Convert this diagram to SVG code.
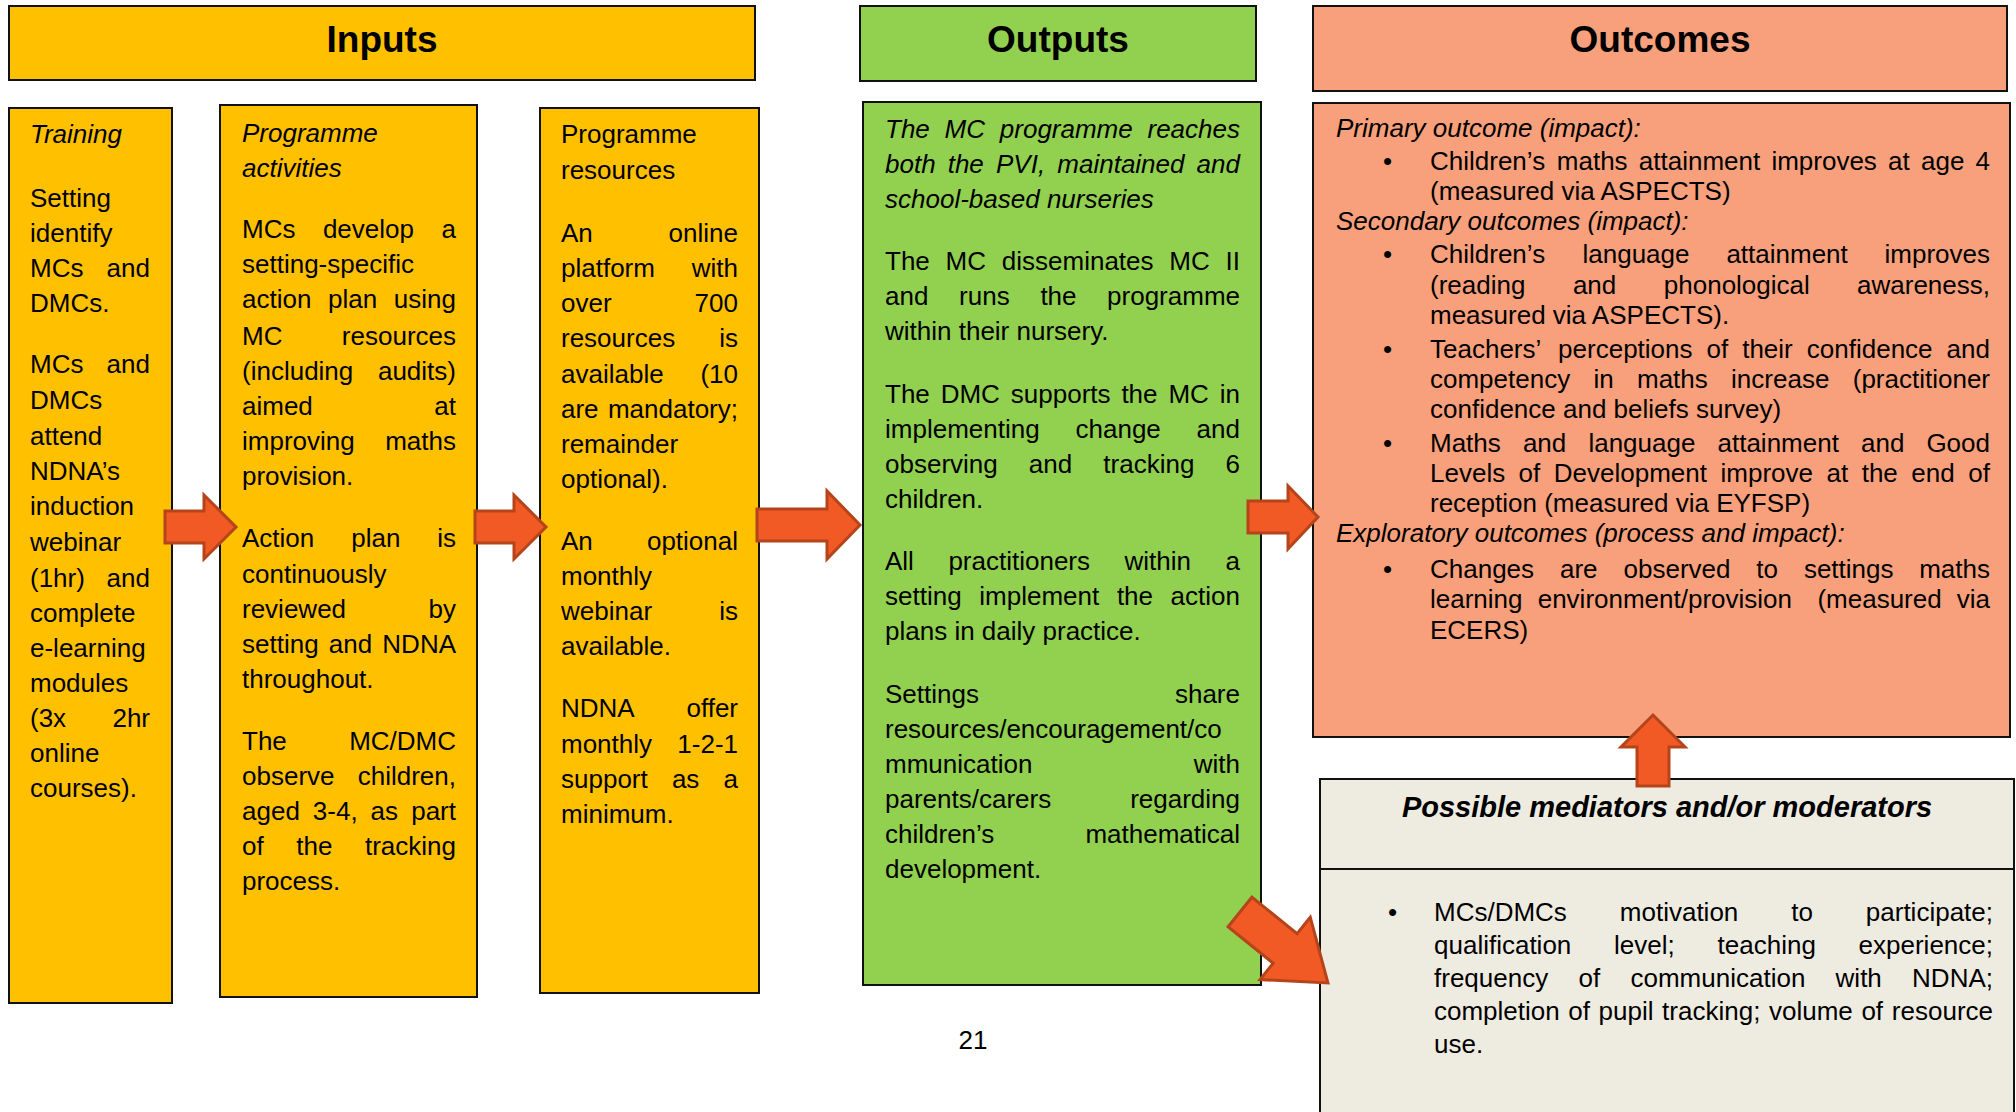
<svg xmlns="http://www.w3.org/2000/svg" width="2016" height="1112" viewBox="0 0 2016 1112">
<style>
.t{font-family:'Liberation Sans',Arial,sans-serif;font-size:26px;fill:#000}
.i{font-style:italic}
.e{text-anchor:end}
.h{font-family:'Liberation Sans',Arial,sans-serif;font-weight:bold;font-size:37px;text-anchor:middle;fill:#000}
.box{stroke:#111;stroke-width:2}
.yel{fill:#FFC000}
.grn{fill:#92D050}
.sal{fill:#F7A07B}
.bei{fill:#EEECE1}
.arr{fill:#F15A24;stroke:#B5441B;stroke-width:3;stroke-linejoin:miter}
</style>
<rect width="2016" height="1112" fill="#fff"/>

<g id="inputs-header">
<rect class="box yel" x="9" y="6" width="746" height="74"/>
<text class="h" x="382" y="52">Inputs</text>
</g>
<g id="outputs-header">
<rect class="box grn" x="860" y="6" width="396" height="75"/>
<text class="h" x="1058" y="52">Outputs</text>
</g>
<g id="outcomes-header">
<rect class="box sal" x="1313" y="6" width="694" height="85"/>
<text class="h" x="1660" y="52">Outcomes</text>
</g>

<g id="training">
<rect class="box yel" x="9" y="108" width="163" height="895"/>
<text class="t i" x="30" y="143">Training</text>
<text class="t" x="30" y="207">Setting</text>
<text class="t" x="30" y="242">identify</text>
<text class="t" x="30" y="277">MCs</text><text class="t e" x="150" y="277">and</text>
<text class="t" x="30" y="312">DMCs.</text>
<text class="t" x="30" y="373">MCs</text><text class="t e" x="150" y="373">and</text>
<text class="t" x="30" y="409">DMCs</text>
<text class="t" x="30" y="445">attend</text>
<text class="t" x="30" y="480">NDNA’s</text>
<text class="t" x="30" y="515">induction</text>
<text class="t" x="30" y="551">webinar</text>
<text class="t" x="30" y="587">(1hr)</text><text class="t e" x="150" y="587">and</text>
<text class="t" x="30" y="622">complete</text>
<text class="t" x="30" y="657">e-learning</text>
<text class="t" x="30" y="692">modules</text>
<text class="t" x="30" y="727">(3x</text><text class="t e" x="150" y="727">2hr</text>
<text class="t" x="30" y="762">online</text>
<text class="t" x="30" y="797">courses).</text>
</g>

<g id="programme-activities">
<rect class="box yel" x="220" y="105" width="257" height="892"/>
<text class="t i" x="242" y="142">Programme</text>
<text class="t i" x="242" y="177">activities</text>
<text class="t" y="238"><tspan x="242">MCs</tspan><tspan x="322.9">develop</tspan></text><text class="t e" x="456" y="238">a</text>
<text class="t" x="242" y="273">setting-specific</text>
<text class="t" y="308"><tspan x="242">action</tspan><tspan x="328.1">plan</tspan></text><text class="t e" x="456" y="308">using</text>
<text class="t" x="242" y="345">MC</text><text class="t e" x="456" y="345">resources</text>
<text class="t" x="242" y="380">(including</text><text class="t e" x="456" y="380">audits)</text>
<text class="t" x="242" y="415">aimed</text><text class="t e" x="456" y="415">at</text>
<text class="t" x="242" y="450">improving</text><text class="t e" x="456" y="450">maths</text>
<text class="t" x="242" y="485">provision.</text>
<text class="t" y="547"><tspan x="242">Action</tspan><tspan x="351.2">plan</tspan></text><text class="t e" x="456" y="547">is</text>
<text class="t" x="242" y="583">continuously</text>
<text class="t" x="242" y="618">reviewed</text><text class="t e" x="456" y="618">by</text>
<text class="t" y="653"><tspan x="242">setting</tspan><tspan x="328.8">and</tspan></text><text class="t e" x="456" y="653">NDNA</text>
<text class="t" x="242" y="688">throughout.</text>
<text class="t" x="242" y="750">The</text><text class="t e" x="456" y="750">MC/DMC</text>
<text class="t" x="242" y="785">observe</text><text class="t e" x="456" y="785">children,</text>
<text class="t" y="820"><tspan x="242">aged</tspan><tspan x="312.8">3-4,</tspan><tspan x="370.6">as</tspan></text><text class="t e" x="456" y="820">part</text>
<text class="t" y="855"><tspan x="242">of</tspan><tspan x="296.3">the</tspan></text><text class="t e" x="456" y="855">tracking</text>
<text class="t" x="242" y="890">process.</text>
</g>

<g id="programme-resources">
<rect class="box yel" x="540" y="108" width="219" height="885"/>
<text class="t" x="561" y="143">Programme</text>
<text class="t" x="561" y="179">resources</text>
<text class="t" x="561" y="242">An</text><text class="t e" x="738" y="242">online</text>
<text class="t" x="561" y="277">platform</text><text class="t e" x="738" y="277">with</text>
<text class="t" x="561" y="312">over</text><text class="t e" x="738" y="312">700</text>
<text class="t" x="561" y="347">resources</text><text class="t e" x="738" y="347">is</text>
<text class="t" x="561" y="383">available</text><text class="t e" x="738" y="383">(10</text>
<text class="t" x="561" y="418">are</text><text class="t e" x="738" y="418">mandatory;</text>
<text class="t" x="561" y="453">remainder</text>
<text class="t" x="561" y="488">optional).</text>
<text class="t" x="561" y="550">An</text><text class="t e" x="738" y="550">optional</text>
<text class="t" x="561" y="585">monthly</text>
<text class="t" x="561" y="620">webinar</text><text class="t e" x="738" y="620">is</text>
<text class="t" x="561" y="655">available.</text>
<text class="t" x="561" y="717">NDNA</text><text class="t e" x="738" y="717">offer</text>
<text class="t" x="561" y="753">monthly</text><text class="t e" x="738" y="753">1-2-1</text>
<text class="t" y="788"><tspan x="561">support</tspan><tspan x="671.9">as</tspan></text><text class="t e" x="738" y="788">a</text>
<text class="t" x="561" y="823">minimum.</text>
</g>

<g id="outputs">
<rect class="box grn" x="863" y="102" width="398" height="883"/>
<text class="t i" y="138"><tspan x="885">The</tspan><tspan x="944.6">MC</tspan><tspan x="999.8">programme</tspan></text><text class="t i e" x="1240" y="138">reaches</text>
<text class="t i" y="173"><tspan x="885">both</tspan><tspan x="947.7">the</tspan><tspan x="996">PVI,</tspan><tspan x="1057.3">maintained</tspan></text><text class="t i e" x="1240" y="173">and</text>
<text class="t i" x="885" y="208">school-based nurseries</text>
<text class="t" y="270"><tspan x="885">The</tspan><tspan x="945.6">MC</tspan><tspan x="1001.8">disseminates</tspan><tspan x="1169.3">MC</tspan></text><text class="t e" x="1240" y="270">II</text>
<text class="t" y="305"><tspan x="885">and</tspan><tspan x="959.1">runs</tspan><tspan x="1040.4">the</tspan></text><text class="t e" x="1240" y="305">programme</text>
<text class="t" x="885" y="340">within their nursery.</text>
<text class="t" y="403"><tspan x="885">The</tspan><tspan x="940.7">DMC</tspan><tspan x="1010.8">supports</tspan><tspan x="1121.4">the</tspan><tspan x="1168.4">MC</tspan></text><text class="t e" x="1240" y="403">in</text>
<text class="t" y="438"><tspan x="885">implementing</tspan><tspan x="1075.5">change</tspan></text><text class="t e" x="1240" y="438">and</text>
<text class="t" y="473"><tspan x="885">observing</tspan><tspan x="1028.8">and</tspan><tspan x="1103.3">tracking</tspan></text><text class="t e" x="1240" y="473">6</text>
<text class="t" x="885" y="508">children.</text>
<text class="t" y="570"><tspan x="885">All</tspan><tspan x="948.4">practitioners</tspan><tspan x="1124.5">within</tspan></text><text class="t e" x="1240" y="570">a</text>
<text class="t" y="605"><tspan x="885">setting</tspan><tspan x="979.3">implement</tspan><tspan x="1116.9">the</tspan></text><text class="t e" x="1240" y="605">action</text>
<text class="t" x="885" y="640">plans in daily practice.</text>
<text class="t" x="885" y="703">Settings</text><text class="t e" x="1240" y="703">share</text>
<text class="t" x="885" y="738">resources/encouragement/co</text>
<text class="t" x="885" y="773">mmunication</text><text class="t e" x="1240" y="773">with</text>
<text class="t" x="885" y="808">parents/carers</text><text class="t e" x="1240" y="808">regarding</text>
<text class="t" x="885" y="843">children’s</text><text class="t e" x="1240" y="843">mathematical</text>
<text class="t" x="885" y="878">development.</text>
</g>

<g id="outcomes">
<rect class="box sal" x="1313" y="103" width="697" height="634"/>
<text class="t i" x="1336" y="137">Primary outcome (impact):</text>
<text class="t" x="1383" y="170">•</text>
<text class="t" y="170"><tspan x="1430">Children’s</tspan><tspan x="1556.8">maths</tspan><tspan x="1638.8">attainment</tspan><tspan x="1771.4">improves</tspan><tspan x="1888.1">at</tspan><tspan x="1921">age</tspan></text><text class="t e" x="1990" y="170">4</text>
<text class="t" x="1430" y="200">(measured via ASPECTS)</text>
<text class="t i" x="1336" y="230">Secondary outcomes (impact):</text>
<text class="t" x="1383" y="263">•</text>
<text class="t" y="263"><tspan x="1430">Children’s</tspan><tspan x="1582.5">language</tspan><tspan x="1726.4">attainment</tspan></text><text class="t e" x="1990" y="263">improves</text>
<text class="t" y="294"><tspan x="1430">(reading</tspan><tspan x="1572.9">and</tspan><tspan x="1663.8">phonological</tspan></text><text class="t e" x="1990" y="294">awareness,</text>
<text class="t" x="1430" y="324">measured via ASPECTS).</text>
<text class="t" x="1383" y="358">•</text>
<text class="t" y="358"><tspan x="1430">Teachers’</tspan><tspan x="1558.1">perceptions</tspan><tspan x="1706.5">of</tspan><tspan x="1742.2">their</tspan><tspan x="1806.8">confidence</tspan></text><text class="t e" x="1990" y="358">and</text>
<text class="t" y="388"><tspan x="1430">competency</tspan><tspan x="1593.5">in</tspan><tspan x="1637">maths</tspan><tspan x="1731.1">increase</tspan></text><text class="t e" x="1990" y="388">(practitioner</text>
<text class="t" x="1430" y="418">confidence and beliefs survey)</text>
<text class="t" x="1383" y="452">•</text>
<text class="t" y="452"><tspan x="1430">Maths</tspan><tspan x="1522.9">and</tspan><tspan x="1588.4">language</tspan><tspan x="1717.5">attainment</tspan><tspan x="1861">and</tspan></text><text class="t e" x="1990" y="452">Good</text>
<text class="t" y="482"><tspan x="1430">Levels</tspan><tspan x="1518.6">of</tspan><tspan x="1553.8">Development</tspan><tspan x="1720.5">improve</tspan><tspan x="1826.5">at</tspan><tspan x="1861.7">the</tspan><tspan x="1911.3">end</tspan></text><text class="t e" x="1990" y="482">of</text>
<text class="t" x="1430" y="512">reception (measured via EYFSP)</text>
<text class="t i" x="1336" y="542">Exploratory outcomes (process and impact):</text>
<text class="t" x="1383" y="578">•</text>
<text class="t" y="578"><tspan x="1430">Changes</tspan><tspan x="1560">are</tspan><tspan x="1623.5">observed</tspan><tspan x="1756.3">to</tspan><tspan x="1803.9">settings</tspan></text><text class="t e" x="1990" y="578">maths</text>
<text class="t" y="608"><tspan x="1430">learning</tspan><tspan x="1537.7">environment/provision</tspan><tspan x="1817.4">(measured</tspan></text><text class="t e" x="1990" y="608">via</text>
<text class="t" x="1430" y="639">ECERS)</text>
</g>

<g id="mediators">
<rect class="box bei" x="1320" y="779" width="694" height="360"/>
<line class="box" x1="1320" y1="869" x2="2014" y2="869"/>
<text class="t" x="1667" y="817" style="font-weight:bold;font-style:italic;font-size:29px;text-anchor:middle">Possible mediators and/or moderators</text>
<text class="t" x="1388" y="921">•</text>
<text class="t" y="921"><tspan x="1434">MCs/DMCs</tspan><tspan x="1619.8">motivation</tspan><tspan x="1791.2">to</tspan></text><text class="t e" x="1993" y="921">participate;</text>
<text class="t" y="954"><tspan x="1434">qualification</tspan><tspan x="1614.1">level;</tspan><tspan x="1717.6">teaching</tspan></text><text class="t e" x="1993" y="954">experience;</text>
<text class="t" y="987"><tspan x="1434">frequency</tspan><tspan x="1578.5">of</tspan><tspan x="1630.5">communication</tspan><tspan x="1835.6">with</tspan></text><text class="t e" x="1993" y="987">NDNA;</text>
<text class="t" y="1020"><tspan x="1434">completion</tspan><tspan x="1568.3">of</tspan><tspan x="1598.6">pupil</tspan><tspan x="1662.1">tracking;</tspan><tspan x="1769">volume</tspan><tspan x="1861.4">of</tspan></text><text class="t e" x="1993" y="1020">resource</text>
<text class="t" x="1434" y="1053">use.</text>
</g>

<g id="connectors">
<polygon class="arr" points="165,511 204,511 204,495 236,527 204,559 204,543 165,543"/>
<polygon class="arr" points="475,511 514,511 514,495 546,527 514,559 514,543 475,543"/>
<polygon class="arr" points="757,509 827,509 827,491 860,525 827,559 827,541 757,541"/>
<polygon class="arr" points="1248,501 1288,501 1288,486 1318,517 1288,549 1288,533 1248,533"/>
<polygon class="arr" points="1637,786 1637,747 1621,747 1653,715 1685,747 1669,747 1669,786"/>
<polygon class="arr" transform="translate(1240,912) rotate(38.9)" points="0,-19 58,-19 58,-40 113,0 58,40 58,19 0,19"/>
</g>

<g id="page-number">
<text class="t" x="973" y="1049" style="text-anchor:middle">21</text>
</g>
</svg>
